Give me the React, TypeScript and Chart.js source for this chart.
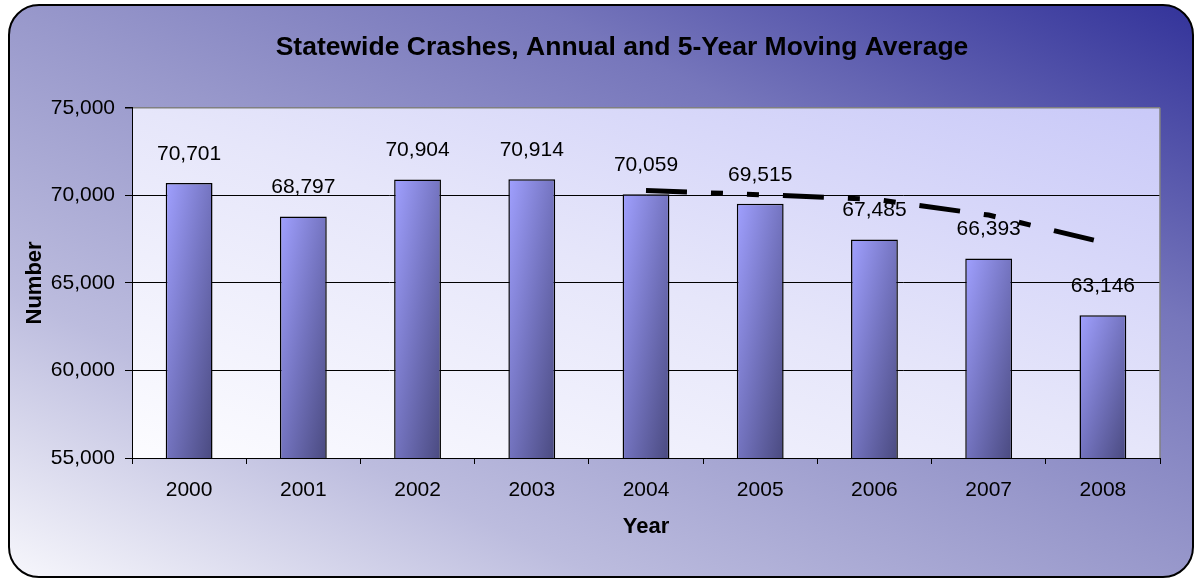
import { useEffect, useRef } from 'react';
import { Chart, registerables } from 'chart.js';

Chart.register(...registerables);

const years = ['2000', '2001', '2002', '2003', '2004', '2005', '2006', '2007', '2008'];
const annualCrashes = [70701, 68797, 70904, 70914, 70059, 69515, 67485, 66393, 63146];
const movingAverage = [null, null, null, null, 70275, 70038, 69775, 68873, 67320];
const yMin = 55000;
const yMax = 75000;
const yStep = 5000;
const titleText = 'Statewide Crashes, Annual and 5-Year Moving Average';

const FAMILY = "'Liberation Sans', Arial, Helvetica, sans-serif";

function barFill(ctx: any) {
  const chart = ctx.chart;
  const area = chart.chartArea;
  if (!area || ctx.type !== 'data' || !chart.scales.x || !chart.scales.y) return '#8080d8';
  const xs = chart.scales.x;
  const ys = chart.scales.y;
  const cx = xs.getPixelForValue(ctx.dataIndex);
  const w = (xs.width / years.length) * 0.41;
  const x0 = cx - w / 2;
  const top = ys.getPixelForValue(ctx.raw);
  const h = Math.max(area.bottom - top, 1);
  const a = (2 * w * h) / (h * h + w * w);
  const g = chart.ctx.createLinearGradient(x0, top, x0 + a * h, top + a * w);
  g.addColorStop(0, '#a0a0ff');
  g.addColorStop(0.5, '#7474c0');
  g.addColorStop(1, '#4a4a80');
  return g;
}

const backgroundPlugin = {
  id: 'frameAndPlotBg',
  afterLayout(chart: any) {
    // centre the title a little right of the canvas centre, as in the source
    if (chart.titleBlock) chart.titleBlock.left = 84;
  },
  beforeDraw(chart: any) {
    const c = chart.ctx;
    const W = chart.width;
    const H = chart.height;
    c.save();
    c.fillStyle = '#ffffff';
    c.fillRect(0, 0, W, H);
    // outer rounded frame
    const fx = 9, fy = 5, fw = 1184, fh = 572, r = 30;
    const cxm = fx + fw / 2, cym = fy + fh / 2;
    const L2 = fw * fw + fh * fh;
    const k = (fw * fh) / L2;
    const g = c.createLinearGradient(cxm - fh * k, cym + fw * k, cxm + fh * k, cym - fw * k);
    g.addColorStop(0, '#f7f7fc');
    g.addColorStop(0.25, '#bcbcde');
    g.addColorStop(0.5, '#9898cb');
    g.addColorStop(0.72, '#7676bb');
    g.addColorStop(1, '#33339a');
    c.beginPath();
    c.roundRect(fx, fy, fw, fh, r);
    c.fillStyle = g;
    c.fill();
    c.lineWidth = 2;
    c.strokeStyle = '#000';
    c.stroke();
    // plot area
    const a = chart.chartArea;
    const pw = a.right - a.left, ph = a.bottom - a.top;
    const pcx = a.left + pw / 2, pcy = a.top + ph / 2;
    const pk = (pw * ph) / (pw * pw + ph * ph);
    const pg = c.createLinearGradient(pcx - ph * pk, pcy + pw * pk, pcx + ph * pk, pcy - pw * pk);
    pg.addColorStop(0, '#fcfcff');
    pg.addColorStop(0.5, '#e6e6fa');
    pg.addColorStop(1, '#c9c9f8');
    c.fillStyle = pg;
    c.fillRect(a.left, a.top, pw, ph);
    c.restore();
  },
  beforeDatasetsDraw(chart: any) {
    const c = chart.ctx;
    const a = chart.chartArea;
    c.save();
    c.strokeStyle = '#808080';
    c.lineWidth = 1.5;
    c.beginPath();
    c.moveTo(a.right, a.top);
    c.lineTo(a.right, a.bottom);
    c.stroke();
    c.restore();
  },
};

const dataLabelPlugin = {
  id: 'barValueLabels',
  afterDatasetDraw(chart: any, args: any) {
    const meta = args.meta;
    if (meta.type !== 'bar') return;
    const c = chart.ctx;
    c.save();
    c.font = `21px ${FAMILY}`;
    c.fillStyle = '#000';
    c.textAlign = 'center';
    c.textBaseline = 'middle';
    meta.data.forEach((el: any, i: number) => {
      const v = chart.data.datasets[args.index].data[i];
      c.fillText(Number(v).toLocaleString('en-US'), el.x, el.y - 29);
    });
    c.restore();
  },
};

export default function App() {
  const ref = useRef<HTMLCanvasElement>(null);
  useEffect(() => {
    document.body.style.margin = '0';
    const canvas = ref.current!;
    Chart.defaults.font.family = FAMILY;
    Chart.defaults.color = '#000';
    const chart = new Chart(canvas, {
      type: 'bar',
      data: {
        labels: years,
        datasets: [
          {
            type: 'line',
            label: '5-Year Moving Average',
            data: movingAverage,
            borderColor: '#000',
            borderWidth: 5,
            borderDash: [41, 24, 12, 24, 12, 24],
            borderCapStyle: 'butt',
            pointRadius: 0,
            pointHoverRadius: 0,
            fill: false,
            tension: 0,
            order: 0,
          } as any,
          {
            type: 'bar',
            label: 'Annual',
            data: annualCrashes,
            backgroundColor: barFill,
            borderColor: '#000',
            borderWidth: 1.5,
            barPercentage: 0.41,
            categoryPercentage: 1,
            order: 1,
          } as any,
        ],
      },
      options: {
        responsive: false,
        animation: false,
        devicePixelRatio: 1,
        layout: { padding: { left: 0, right: 36, top: 0, bottom: 0 } },
        plugins: {
          legend: { display: false },
          tooltip: { enabled: false },
          title: {
            display: true,
            text: titleText,
            color: '#000',
            font: { size: 26.5, weight: 'bold', family: FAMILY },
            padding: { top: 32, bottom: 44 },
          },
        },
        scales: {
          x: {
            offset: true,
            grid: {
              offset: true,
              drawOnChartArea: false,
              drawTicks: true,
              tickLength: 6,
              color: '#000',
              lineWidth: 1,
            },
            border: { color: '#000', width: 1 },
            ticks: { font: { size: 21 }, color: '#000', padding: 14 },
            title: {
              display: true,
              text: 'Year',
              color: '#000',
              font: { size: 22, weight: 'bold' },
              padding: { top: 0, bottom: 39 },
            },
            afterFit: (s: any) => {
              s.height = 121;
            },
          },
          y: {
            min: yMin,
            max: yMax,
            ticks: {
              stepSize: yStep,
              font: { size: 21 },
              color: '#000',
              padding: 10,
              callback: (v: any) => Number(v).toLocaleString('en-US'),
            },
            grid: {
              color: (ctx: any) => (ctx.tick && ctx.tick.value === yMax ? '#808080' : '#000'),
              tickColor: '#000',
              tickLength: 7,
              lineWidth: (ctx: any) => (ctx.tick && ctx.tick.value === yMax ? 1.5 : 1),
            },
            border: { color: '#000', width: 1 },
            title: {
              display: true,
              text: 'Number',
              color: '#000',
              font: { size: 22, weight: 'bold' },
              padding: { top: 22, bottom: 0 },
            },
            afterFit: (s: any) => {
              s.width = 132;
            },
          },
        },
      } as any,
      plugins: [backgroundPlugin, dataLabelPlugin],
    });
    return () => chart.destroy();
  }, []);
  return (
    <canvas
      ref={ref}
      width={1196}
      height={579}
      style={{ display: 'block', width: '1196px', height: '579px' }}
    />
  );
}
